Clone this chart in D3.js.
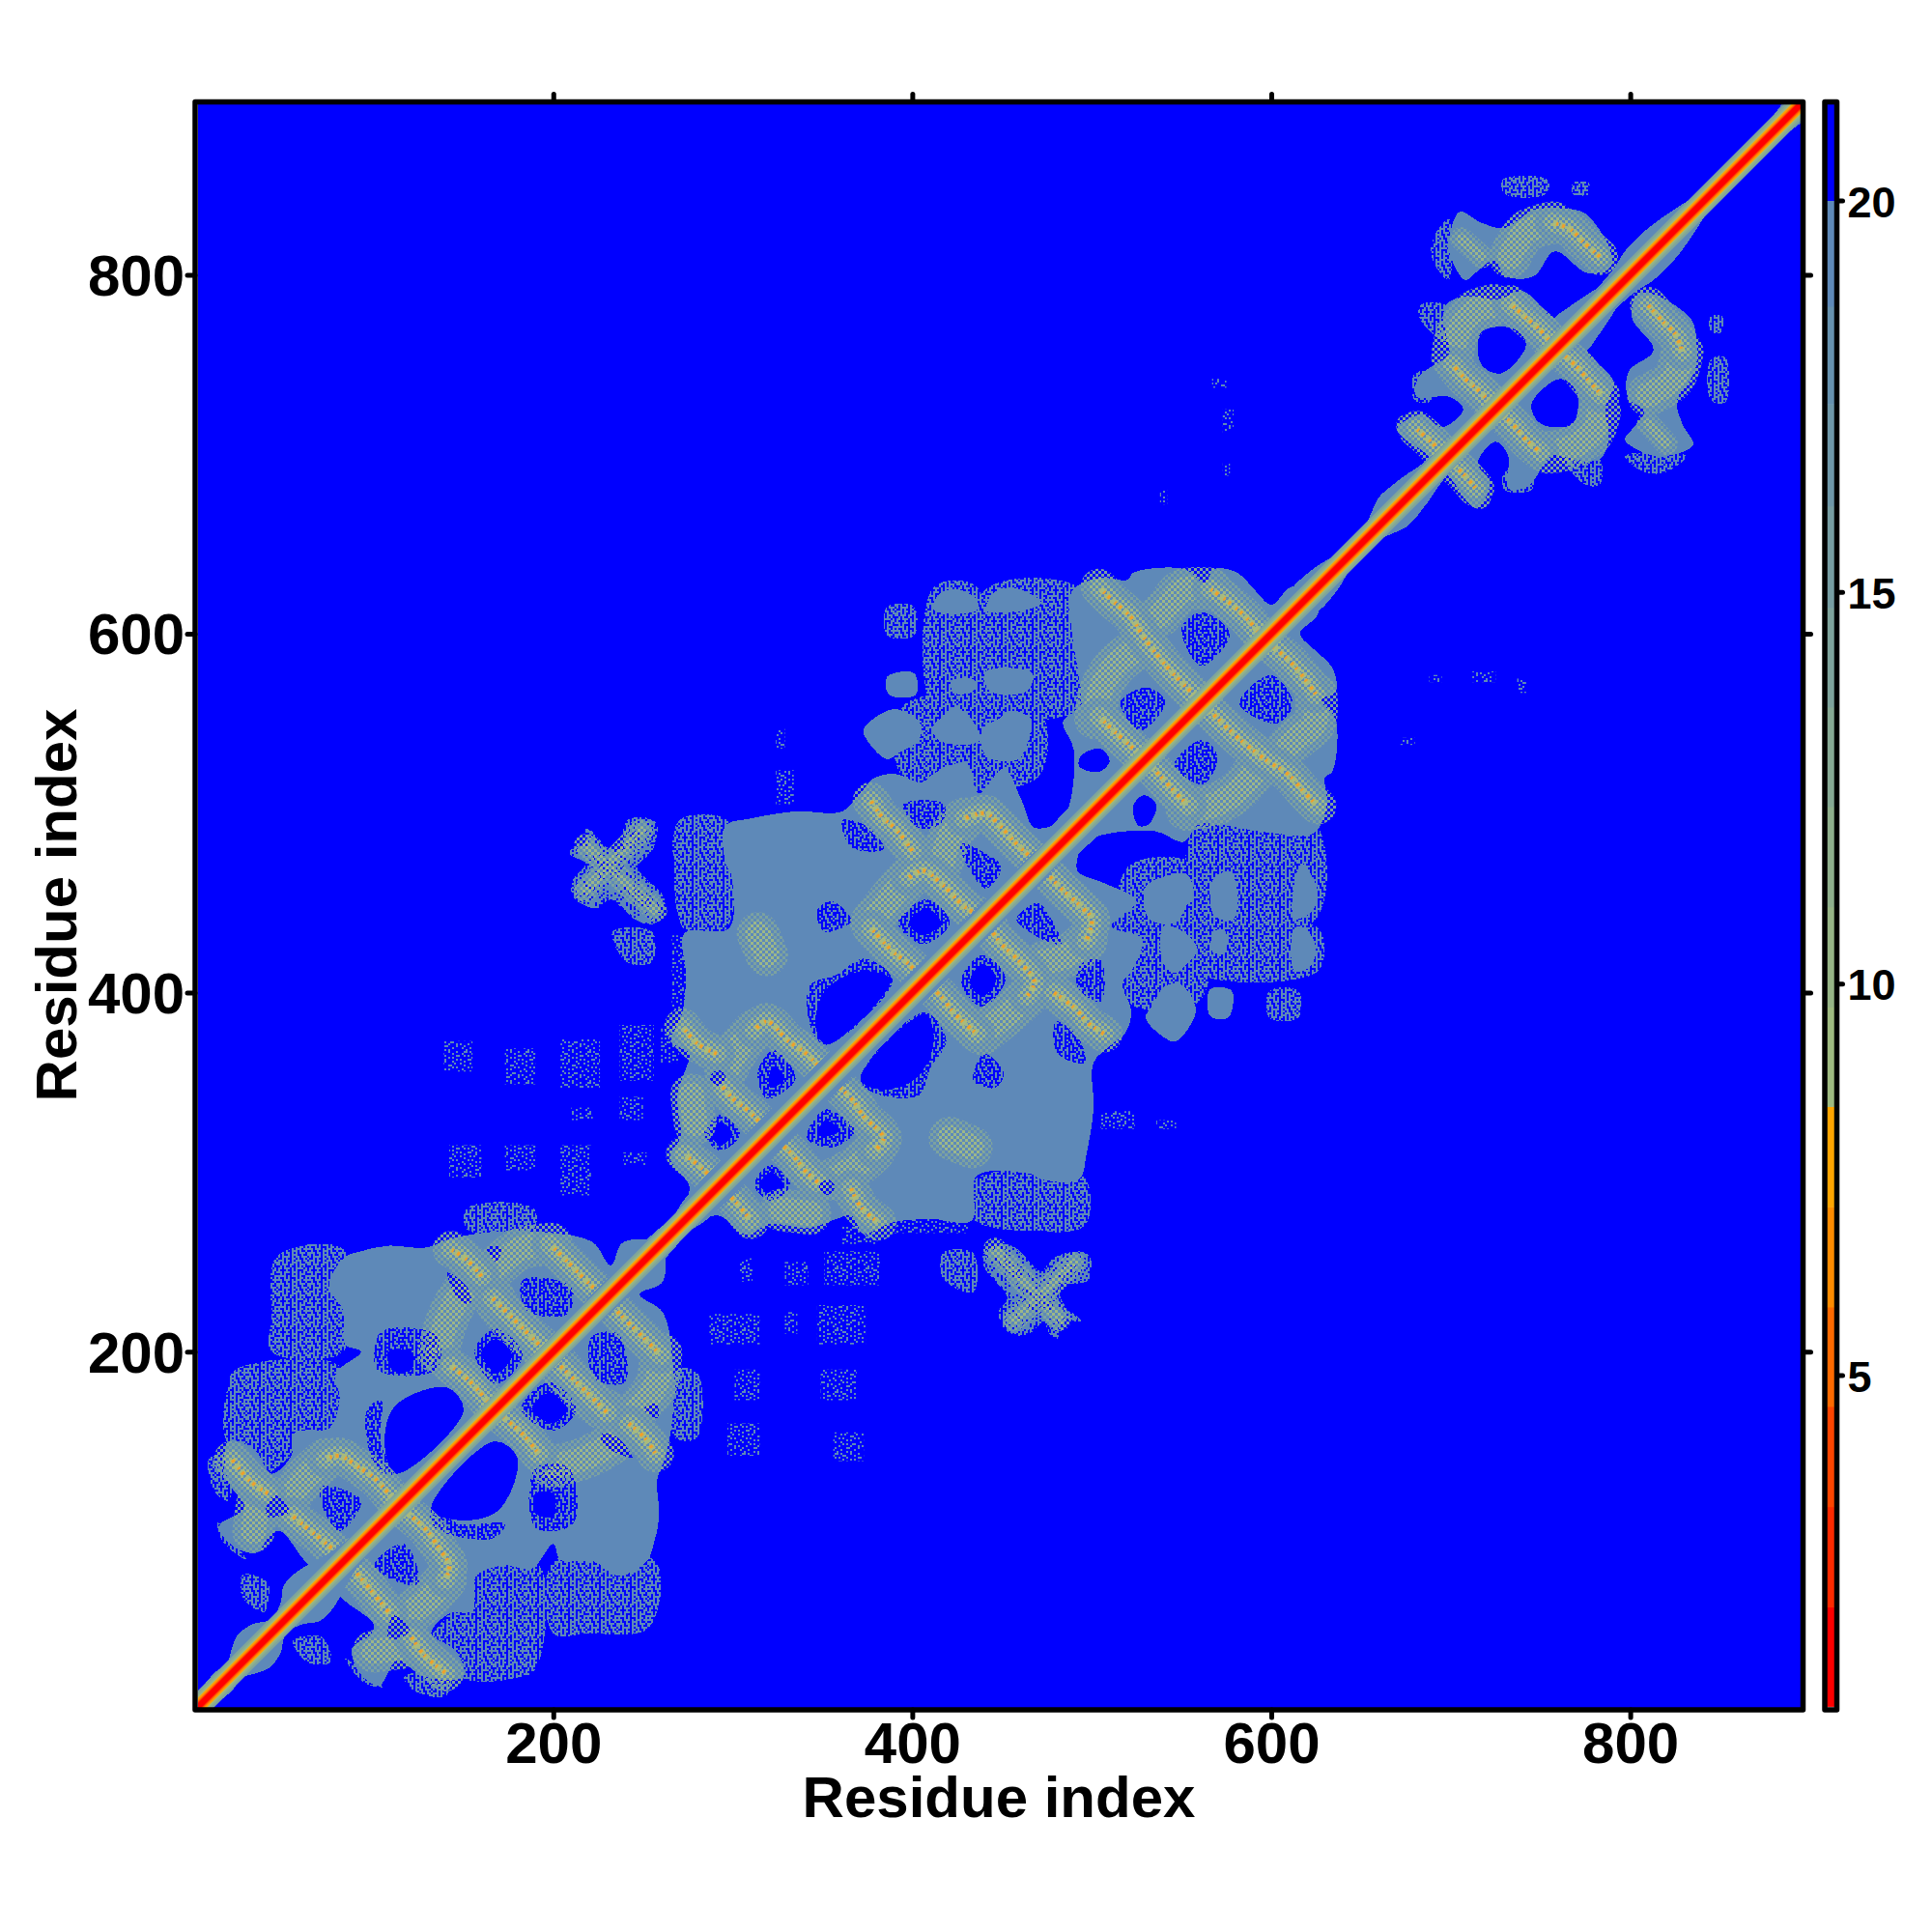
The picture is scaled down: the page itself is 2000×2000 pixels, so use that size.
<!DOCTYPE html>
<html><head><meta charset="utf-8">
<script src="https://cdnjs.cloudflare.com/ajax/libs/d3/7.8.5/d3.min.js"></script>
<style>html,body{margin:0;padding:0;background:#fff}svg{display:block}text{font-family:"Liberation Sans",Arial,sans-serif;font-weight:700;fill:#000}</style>
</head><body><svg id="c" width="2000" height="2000"></svg>
<script>
const residueTicks=[200,400,600,800];
const distanceTicks=[5,10,15,20];
const levelBreaks=[0.77,2.04,3.32,4.6,5.87,7.15,8.43,9.7,10.98,12.26,13.53,14.8,16.1,17.4,18.65,20,21.23];
const levelColors=["#FF0000","#FF2A00","#FF4500","#FF6A00","#FF8C00","#FFA500","#9EBA80","#96B486","#8EAF8C","#86A994","#7EA39C","#769DA2","#6E97A8","#6691AE","#5E89B8","#0000FF"];
// half-width of the sheath around the main diagonal: [residue, half-width]
const sheath=[[1,2],[8,4],[16,5],[22,4],[28,7],[33,9],[40,8],[47,4],[54,6],[60,10],[68,10],[75,8],[90,5],[262,5],[270,4],[280,6],[610,5],[620,7],[632,6],[640,4],[655,3.5],[662,6],[668,8],[680,7],[692,5],[795,6],[805,8],[818,8],[830,6],[840,4],[855,3.5],[870,4.5],[878,4],[888,5],[896,7]];
// outlines of the regions closer than 20 (one half of the symmetric map)
const domainOutlines=[
[[262,259],[239,261],[232,248],[222,261],[200,266],[170,267],[143,263],[129,258],[108,259],[93,256],[83,252],[75,236],[83,223],[84,204],[93,200],[79,188],[81,173],[75,157],[56,155],[54,142],[43,132],[33,146],[19,150],[19,128],[28,113],[14,103],[21,92],[35,88],[42,98],[48,100],[66,80],[83,82]],
[[266,271],[276,291],[265,308],[271,320],[269,343],[274,358],[276,366],[266,373],[272,389],[274,410],[273,433],[298,436],[299,466],[296,472],[296,493],[310,497],[335,501],[361,501],[371,511],[378,519],[390,522],[405,517],[412,522],[430,528],[437,511],[451,525],[461,507],[468,492],[484,497],[490,535],[484,551],[494,560],[493,575],[489,600],[489,624],[505,631],[520,630],[523,634],[552,636],[563,628],[568,636],[581,634],[592,623],[600,616],[611,626],[622,624],[626,620]],
[[699,820],[705,835],[717,829],[730,826],[746,836],[762,837],[775,834],[789,813],[789,804],[776,801],[758,813],[746,799],[731,799],[724,808],[715,802],[708,797],[699,813]],
[[784,793],[760,778],[757,776],[740,791],[726,786],[710,788],[697,783],[698,765],[699,756],[682,743],[681,732],[699,732],[707,725],[695,715],[684,722],[670,714],[684,702],[697,695]],
[[390,558],[405,549],[403,540],[393,534],[386,530],[374,542],[373,547]],
[[424,559],[434,551],[437,540],[416,540],[411,547],[416,553]],
[[453,557],[466,553],[466,546],[459,530],[441,532],[439,547],[449,553]],
[[386,576],[401,578],[402,566],[387,566]],
[[422,574],[435,574],[434,568],[423,567]],
[[441,579],[467,578],[464,568],[443,568]],
[[424,625],[436,619],[436,613],[412,613],[414,621]],
[[459,625],[472,617],[462,613],[441,613],[447,624]]
];
const blueHoles=[
[[112,170],[141,180],[150,167],[112,132],[106,150]],
[[160,200],[168,207],[177,198],[168,188]],
[[40,113],[45,120],[53,111],[41,108]],
[[163,258],[171,258],[168,250]],
[[141,244],[152,236],[154,227],[148,228]],
[[108,200],[121,200],[121,190],[110,190]],
[[398,439],[408,447],[416,439],[406,432]],
[[352,402],[373,412],[388,407],[352,371],[346,382]],
[[287,353],[292,357],[296,353],[292,348]],
[[288,321],[293,328],[300,321],[293,315]],
[[320,353],[323,359],[329,352],[321,347]],
[[494,532],[505,536],[510,529],[504,523],[493,526]],
[[717,768],[735,770],[742,761],[728,745],[717,750]]
];
const speckledHoles=[
[[104,211],[135,209],[135,190],[102,190]],
[[183,240],[210,236],[208,221],[185,223]],
[[71,125],[93,117],[81,100],[71,115]],
[[96,167],[104,173],[104,148],[112,132],[102,134]],
[[156,200],[168,213],[183,198],[168,182]],
[[284,321],[293,332],[304,321],[293,312]],
[[314,356],[323,368],[335,352],[319,341]],
[[343,404],[358,410],[373,419],[389,407],[352,371],[344,379]],
[[347,446],[355,451],[366,440],[351,434]],
[[427,483],[442,477],[450,470],[441,458],[431,470]],
[[361,496],[376,492],[384,480],[366,481]],
[[395,505],[418,505],[416,494],[403,492]],
[[516,562],[531,570],[541,562],[527,546]],
[[550,603],[561,612],[577,600],[561,582]],
[[392,439],[408,452],[421,439],[406,427]]
];
const speckledZones=[
[[46,253],[83,257],[83,200],[43,200],[43,219]],
[[18,178],[23,190],[81,192],[79,161],[54,142],[39,132],[18,150]],
[[8,140],[20,142],[19,117],[12,121]],
[[13,105],[29,84],[16,94]],
[[27,76],[41,71],[39,55],[27,63]],
[[152,280],[189,280],[189,268],[152,268]],
[[273,493],[296,493],[296,435],[273,435]],
[[270,496],[297,496],[297,467],[270,467]],
[[273,461],[295,461],[295,438],[273,438]],
[[462,625],[489,624],[493,575],[494,560],[480,555],[462,557]],
[[440,624],[495,624],[495,559],[440,559]],
[[412,626],[436,626],[436,557],[412,557]],
[[386,615],[401,615],[401,599],[386,599]],
[[395,560],[470,560],[470,520],[395,520]],
[[690,820],[699,831],[699,797],[690,808]],
[[683,783],[697,783],[697,763],[683,775]],
[[680,745],[690,745],[690,730],[680,730]],
[[729,853],[754,853],[753,845],[730,845]],
[[768,851],[777,851],[777,845],[768,845]],
[[233,434],[255,434],[255,417],[241,417]]
];
const sparseBoxes=[[204,226,347,374],[237,256,351,382],[210,222,329,336],[237,250,329,342],[324,329,536,547],[324,334,505,524],[266,276,390,432],[260,270,361,380],[142,160,297,315],[173,190,301,315],[204,221,287,315],[239,252,304,311],[139,155,356,373],[173,190,349,369],[567,575,737,742],[573,579,712,725],[573,577,688,695],[538,542,672,680]];
const crossBlob=[[218,492],[228,482],[237,480],[241,496],[255,496],[253,480],[245,471],[260,453],[255,440],[247,440],[230,453],[222,448],[211,453],[211,463],[218,472],[208,478],[218,484]];
const thinArcs=[[[218,482],[236,465],[257,446]],[[249,490],[233,473],[218,457]],[[706,820],[717,810]],[[681,714],[676,716]]];
const mottledArcs=[
[[198,198],[172,222],[160,239],[152,236],[141,218],[136,199]],
[[199,260],[181,257],[168,247],[160,240]],
[[73,140],[62,130],[54,120]],
[[35,115],[33,100]],
[[429,497],[421,487],[417,473]],
[[398,464],[389,454],[377,439]],
[[312,379],[304,370],[296,356]],
[[277,343],[279,327]],
[[314,433],[319,421]],
[[566,625],[550,624],[543,616],[538,610]],
[[527,593],[513,582],[505,569],[502,553]],
[[724,783],[712,779],[703,765],[701,754]],
[[757,829],[742,824],[733,810]]
];
const bandedStripes=[
[[229,230],[221,237],[208,250],[198,260]],
[[198,198],[185,211],[174,222],[166,230]],
[[166,169],[154,183],[143,192]],
[[160,242],[152,251],[143,257]],
[[113,115],[101,129],[91,136],[81,142],[73,140]],
[[83,85],[70,96],[54,109]],
[[41,121],[31,128],[21,140]],
[[471,471],[458,483],[447,495],[441,500],[429,497]],
[[441,441],[429,448],[417,460],[406,468],[398,464]],
[[406,407],[398,416],[389,423],[377,436]],
[[400,479],[391,491],[383,498],[377,507]],
[[353,353],[341,366],[331,373],[319,384],[312,379]],
[[320,322],[310,333],[300,341],[294,348]],
[[291,366],[281,371],[272,381]],
[[292,293],[283,302],[273,310]],
[[595,598],[586,609],[577,617],[566,625]],
[[561,562],[548,575],[539,585],[529,598],[522,609],[511,619],[504,626]],
[[529,530],[522,537],[511,547],[504,554]],
[[757,761],[749,770],[742,776],[733,784]],
[[722,729],[715,736],[708,742],[701,750]],
[[783,810],[773,819],[767,825],[757,829]],
[[697,698],[690,706],[681,714]]
];
const denseMask=["##.###.#.####.#.","#...#..#.#...##.","##.###.###.#.#.#",".#.#...#.#.###..","####.#.###.#..##","#..#.#...#.##.#.","##.###.#.###.###",".#..#..###.#..#.","###.##.#.#.###.#","#.#..#.###..#..#","#.####.#.##.###.","..#.#..##.#..#.#","###.##.#.###.##.","#.#.#..###.#..##","#.###.##.#.###.#",".#.#..#..#.#.#.."];
const sparseMask=["##.#....#...#...","....##....#....#","#.#...#.....##..","....#...#.#.....","..##..#.....#.#.","#.....#...#.....","...#.#.....#..#.","#.......##......","..#.#.....#.#...","......#.#......#","#..#.........#..","....#.#..##.....","..#.....#...#.#.","#.....##....#...","...#......#....#",".#....#.#......."];
const steel="#5E89B8", blue="#0000FF";
const svg=d3.select("#c");
const x=d3.scaleLinear().domain([1,896]).range([203,1866]);
const y=d3.scaleLinear().domain([1,896]).range([1769,106]);
const c=d3.scaleLinear().domain([20,5]).range([207.5,1423.5]);
const both=a=>a.concat(a.map(p=>p.map(([u,v])=>[v,u])));
const closedPath=d3.line().x(d=>x(d[0])).y(d=>y(d[1])).curve(d3.curveCatmullRomClosed.alpha(.5));
const openPath=d3.line().x(d=>x(d[0])).y(d=>y(d[1])).curve(d3.curveCatmullRom.alpha(.5));
const defs=svg.append("defs");
defs.append("clipPath").attr("id","inner").append("rect").attr("x",x(1)+2).attr("y",y(896)+2).attr("width",x(896)-x(1)-2.5).attr("height",y(1)-y(896)-2.5);
function maskTile(id,mask,col,cell){const n=mask.length,p=defs.append("pattern").attr("id",id).attr("patternUnits","userSpaceOnUse").attr("width",n*cell).attr("height",n*cell);
 mask.forEach((row,j)=>[...row].forEach((ch,i)=>{if(ch==="#")p.append("rect").attr("x",i*cell).attr("y",j*cell).attr("width",cell).attr("height",cell).attr("fill",col).attr("shape-rendering","crispEdges");}));}
maskTile("dense",denseMask,steel,2);
maskTile("sparse",sparseMask,steel,2);
maskTile("holes",denseMask,blue,2);
function checker(id,s,sq,col){const p=defs.append("pattern").attr("id",id).attr("patternUnits","userSpaceOnUse").attr("width",s).attr("height",s);
 [[0,0],[s/2,s/2]].forEach(o=>p.append("rect").attr("x",o[0]).attr("y",o[1]).attr("width",sq).attr("height",sq).attr("fill",col).attr("shape-rendering","crispEdges"));}
checker("mottleA",6,3,"#7CA2A0");
checker("mottleB",6,3,"#9DB888");
const g=svg.append("g").attr("clip-path","url(#inner)");
g.append("rect").attr("x",x(1)).attr("y",y(896)).attr("width",x(896)-x(1)).attr("height",y(1)-y(896)).attr("fill",blue);
function boxPts(b){return [[b[0],b[2]],[b[1],b[2]],[b[1],b[3]],[b[0],b[3]]];}
const polys=(data,fill,crisp)=>g.append("g").selectAll("path").data(both(data)).join("path").attr("d",closedPath).attr("fill",fill).attr("shape-rendering",crisp?"crispEdges":"auto");
const lines=(data,w,col,dash,cap)=>g.append("g").selectAll("path").data(both(data)).join("path").attr("d",openPath).attr("fill","none").attr("stroke",col).attr("stroke-width",w).attr("stroke-linecap",cap||"round").attr("stroke-dasharray",dash||null);
const rectLine=d3.line().x(d=>x(d[0])).y(d=>y(d[1])).curve(d3.curveLinearClosed);
g.append("g").selectAll("path").data(both(sparseBoxes.map(boxPts))).join("path").attr("d",rectLine).attr("fill","url(#sparse)");
polys(speckledZones,"url(#dense)",true);
polys(domainOutlines,steel,true);
polys(speckledHoles,"url(#holes)",true);
polys(blueHoles,blue,true);
polys([crossBlob],"url(#dense)",true);
polys([crossBlob],"url(#dense)",true).attr("transform","translate(4,2)");
lines(thinArcs,24,"url(#mottleA)");
lines(thinArcs,10,"url(#mottleB)");
lines(mottledArcs,44,"url(#mottleA)");
lines(mottledArcs,26,"url(#mottleB)");
lines(bandedStripes,38,"url(#mottleA)");
lines(bandedStripes,20,"url(#mottleB)");
lines(bandedStripes,7,"#A9BA7C","5 3","butt");
lines(bandedStripes,4,"#EFA02A","3 4 2 7","butt");
// diagonal sheath and core
const upper=sheath.map(([r,w])=>[r-w,r+w]), lower=sheath.map(([r,w])=>[r+w,r-w]).reverse();
g.append("path").datum(upper.concat(lower)).attr("d",closedPath).attr("fill",steel).attr("shape-rendering","crispEdges");
const diag=[[1,1],[896,896]];
[[24,"#7FA59B"],[19.5,"#8FB08C"],[16,"#9EBA80"],[13.5,"#FFA500"],[11,"#FF8C00"],[8.5,"#FF4500"],[6,"#FF0000"]].forEach(([w,col])=>{
 g.append("path").datum(diag).attr("d",openPath).attr("fill","none").attr("stroke",col).attr("stroke-width",w);
});
// frame
svg.append("rect").attr("x",202).attr("y",105.5).attr("width",1664.5).attr("height",1664.5).attr("fill","none").attr("stroke","#000").attr("stroke-width",5.5).attr("stroke-linejoin","round");
function styleAxis(sel){sel.select(".domain").remove();sel.selectAll(".tick line").attr("stroke","#000").attr("stroke-width",5).attr("stroke-linecap","round");}
const bottomAxis=svg.append("g").attr("transform","translate(0,1770)").call(d3.axisBottom(x).tickValues(residueTicks).tickSize(8));styleAxis(bottomAxis);
bottomAxis.selectAll("text").attr("y",55).attr("dy",0).attr("font-size",60).attr("font-family",null);
const topAxis=svg.append("g").attr("transform","translate(0,105.5)").call(d3.axisTop(x).tickValues(residueTicks).tickSize(8).tickFormat(""));styleAxis(topAxis);
const leftAxis=svg.append("g").attr("transform","translate(202,0)").call(d3.axisLeft(y).tickValues(residueTicks).tickSize(8));styleAxis(leftAxis);
leftAxis.selectAll("text").attr("x",-11).attr("dy","0.35em").attr("font-size",60).attr("font-family",null);
const rightAxis=svg.append("g").attr("transform","translate(1866.5,0)").call(d3.axisRight(y).tickValues(residueTicks).tickSize(8).tickFormat(""));styleAxis(rightAxis);
svg.append("text").attr("x",1034).attr("y",1881).attr("text-anchor","middle").attr("font-size",60).text("Residue index");
svg.append("text").attr("transform","translate(79,937) rotate(-90)").attr("text-anchor","middle").attr("font-size",60).text("Residue index");
// colour bar
const bar=svg.append("g");
bar.selectAll("rect").data(levelColors).join("rect").attr("x",1889).attr("width",12.5)
 .attr("y",(d,i)=>c(levelBreaks[i+1])).attr("height",(d,i)=>c(levelBreaks[i])-c(levelBreaks[i+1])+.5).attr("fill",d=>d);
svg.append("rect").attr("x",1889).attr("y",105.5).attr("width",12.5).attr("height",1664.5).attr("fill","none").attr("stroke","#000").attr("stroke-width",5.5).attr("stroke-linejoin","round");
const colorAxis=svg.append("g").attr("transform","translate(1901.5,0)").call(d3.axisRight(c).tickValues(distanceTicks).tickSize(6));styleAxis(colorAxis);
colorAxis.selectAll("text").attr("x",11).attr("dy","0.37em").attr("font-size",45).attr("font-family",null);
</script></body></html>
